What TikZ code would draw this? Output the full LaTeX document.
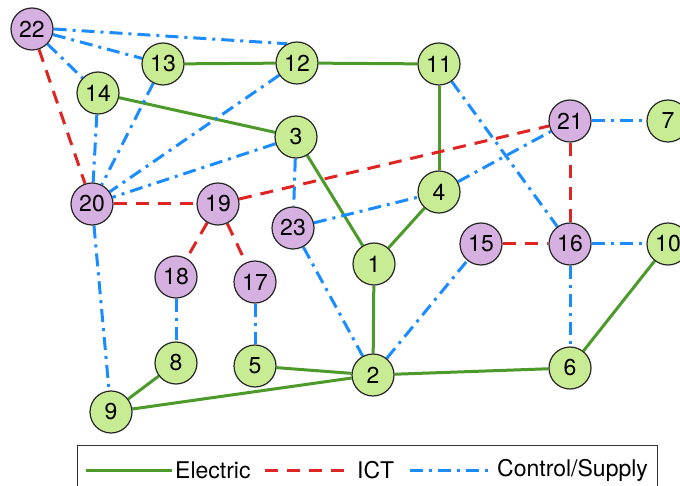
\documentclass[tikz,border=0pt]{standalone}
\usepackage{fontspec}
\setmainfont{TeX Gyre Heros}
\usetikzlibrary{backgrounds}
\definecolor{gfill}{HTML}{C8EC94}
\definecolor{pfill}{HTML}{D7B0E2}
\definecolor{eline}{HTML}{4C9A2A}
\definecolor{iline}{HTML}{E02424}
\definecolor{cline}{HTML}{1A8CFF}
\begin{document}
\begin{tikzpicture}[x=1pt,y=-1pt,
  gn/.style={circle,draw=black!85,line width=1.2pt,fill=gfill,minimum size=42pt,inner sep=0pt,font=\fontsize{23}{23}\selectfont},
  pn/.style={gn,fill=pfill},
  elec/.style={eline,line width=3pt},
  ict/.style={iline,line width=3pt,dash pattern=on 13pt off 9pt},
  ctrl/.style={cline,line width=3pt,dash pattern=on 13pt off 6pt on 3pt off 6pt},
  lbl/.style={anchor=west,inner sep=0pt,font=\fontsize{23}{23}\selectfont}]
\useasboundingbox (0,0) rectangle (680,486);
\clip (0,0) rectangle (680,486);
% nodes
\node[pn] (n22) at (32,29) {22};
\node[gn] (n13) at (163,64) {13};
\node[gn] (n12) at (297,63) {12};
\node[gn] (n11) at (439,64) {11};
\node[gn] (n14) at (98,93) {14};
\node[gn] (n3) at (296,137) {3};
\node[pn] (n21) at (570,121) {21};
\node[gn] (n7) at (668,121) {7};
\node[pn] (n20) at (92,204) {20};
\node[pn] (n19) at (218,204) {19};
\node[gn] (n4) at (439,192) {4};
\node[pn] (n23) at (293,228) {23};
\node[pn] (n15) at (481,244) {15};
\node[pn] (n16) at (570,244) {16};
\node[gn] (n10) at (668,244) {10};
\node[gn] (n1) at (374,264) {1};
\node[pn] (n18) at (176,277) {18};
\node[pn] (n17) at (255,282) {17};
\node[gn] (n8) at (176,363) {8};
\node[gn] (n5) at (255,366) {5};
\node[gn] (n2) at (373,375) {2};
\node[gn] (n6) at (570,368) {6};
\node[gn] (n9) at (111,412) {9};
\begin{scope}[on background layer]
% electric
\draw[elec] (n13) -- (n12);
\draw[elec] (n12) -- (n11);
\draw[elec] (n14) -- (n3);
\draw[elec] (n11) -- (n4);
\draw[elec] (n3) -- (n1);
\draw[elec] (n4) -- (n1);
\draw[elec] (n1) -- (n2);
\draw[elec] (n5) -- (n2);
\draw[elec] (n2) -- (n6);
\draw[elec] (n6) -- (n10);
\draw[elec] (n8) -- (n9);
\draw[elec] (n9) -- (n2);
% ict
\draw[ict] (n22) -- (n20);
\draw[ict] (n20) -- (n19);
\draw[ict] (n19) -- (n21);
\draw[ict] (n19) -- (n18);
\draw[ict] (n19) -- (n17);
\draw[ict] (n21) -- (n16);
\draw[ict] (n15) -- (n16);
% control
\draw[ctrl] (n22) -- (n13);
\draw[ctrl] (n22.0) -- (n12.117);
\draw[ctrl] (n22) -- (n14);
\draw[ctrl] (n14) -- (n20);
\draw[ctrl] (n13) -- (n20);
\draw[ctrl] (n12) -- (n20);
\draw[ctrl] (n3) -- (n20);
\draw[ctrl] (n3) -- (n23);
\draw[ctrl] (n23) -- (n4);
\draw[ctrl] (n4) -- (n21);
\draw[ctrl] (n21) -- (n7);
\draw[ctrl] (n11) -- (n16);
\draw[ctrl] (n16) -- (n10);
\draw[ctrl] (n16) -- (n6);
\draw[ctrl] (n23) -- (n2);
\draw[ctrl] (n2) -- (n15);
\draw[ctrl] (n20) -- (n9);
\draw[ctrl] (n18) -- (n8);
\draw[ctrl] (n17) -- (n5);
\end{scope}
% legend
\node[draw=black!80,line width=1pt,minimum width=580pt,minimum height=56pt,inner sep=0pt,anchor=north west] (leg) at (77,445) {};
\coordinate (e1) at (86,470);
\coordinate (e2) at (172,470);
\draw[elec] (e1) -- (e2);
\node[lbl] (te) at (175,470) {Electric};
\coordinate (i1) at (265,470);
\coordinate (i2) at (349,470);
\draw[ict] (i1) -- (i2);
\node[lbl] (ti) at (357,470) {ICT};
\coordinate (c1) at (410,470);
\coordinate (c2) at (488,470);
\draw[ctrl] (c1) -- (c2);
\node[lbl] (tc) at (497,470) {Control/Supply};
\end{tikzpicture}
\end{document}
